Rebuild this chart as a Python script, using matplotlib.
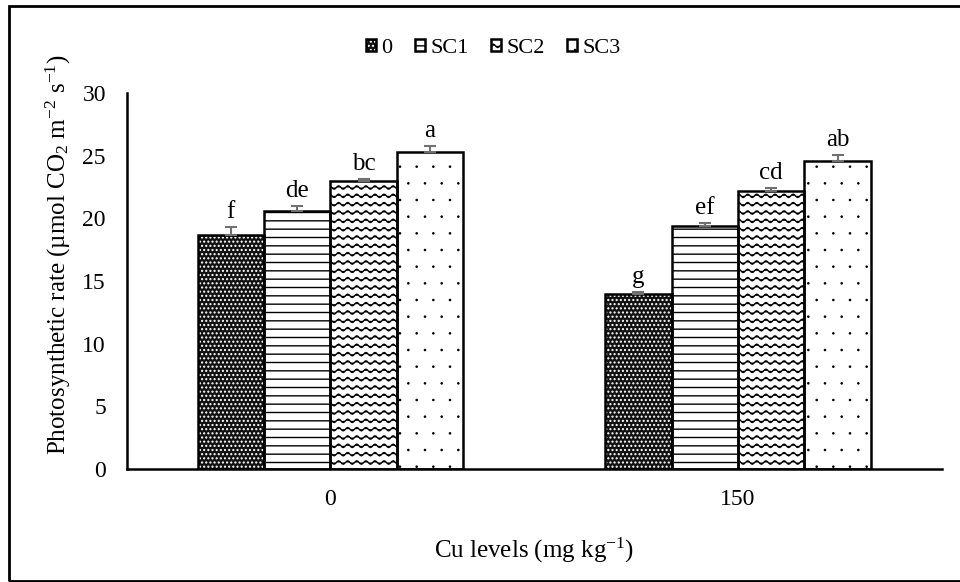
import warnings
import numpy as np
import matplotlib
matplotlib.use('Agg')
import matplotlib.pyplot as plt
from matplotlib import hatch as mhatch
from matplotlib.path import Path
from matplotlib.patches import Rectangle
from matplotlib.legend_handler import HandlerTuple

warnings.filterwarnings('ignore')

# data
cu_levels = ['0', '150']
treatments = ['0', 'SC1', 'SC2', 'SC3']
rate = {
    '0':   [18.7, 14.0],
    'SC1': [20.6, 19.4],
    'SC2': [23.0, 22.2],
    'SC3': [25.3, 24.6],
}
err = {
    '0':   [0.6, 0.1],
    'SC1': [0.4, 0.25],
    'SC2': [0.15, 0.25],
    'SC3': [0.45, 0.45],
}
letters = {
    '0':   ['f', 'g'],
    'SC1': ['de', 'ef'],
    'SC2': ['bc', 'cd'],
    'SC3': ['a', 'ab'],
}


# wavy hatch, matplotlib has none
class WaveHatch(mhatch.HatchPatternBase):
    def __init__(self, hatch, density):
        self.num_rows = hatch.count('~') * density * 2
        self.periods = 11
        self.pts = self.periods * 8 + 1
        self.num_vertices = self.num_rows * self.pts

    def set_vertices_and_codes(self, vertices, codes):
        t = np.linspace(0, 1, self.pts)
        for i in range(self.num_rows):
            s = slice(i * self.pts, (i + 1) * self.pts)
            y0 = (i + 0.5) / self.num_rows
            vertices[s, 0] = t
            vertices[s, 1] = y0 + 0.2 / self.num_rows * np.sin(2 * np.pi * self.periods * t)
            codes[s] = Path.LINETO
            codes[i * self.pts] = Path.MOVETO


# small sparse dots
class TinyDots(mhatch.Circles):
    size = 0.035
    filled = True

    def __init__(self, hatch, density):
        self.num_rows = hatch.count(':') * density
        super().__init__(hatch, density)


mhatch._hatch_types.append(WaveHatch)
mhatch._hatch_types.append(TinyDots)
mhatch._validate_hatch_pattern = lambda h: None

plt.rcParams['font.family'] = ['Liberation Serif', 'DejaVu Serif']
plt.rcParams['mathtext.fontset'] = 'custom'
plt.rcParams['mathtext.rm'] = 'Liberation Serif'
plt.rcParams['mathtext.it'] = 'Liberation Serif:italic'
plt.rcParams['hatch.linewidth'] = 1.0

fig = plt.figure(figsize=(9.6, 5.82), dpi=100)
ax = fig.add_axes([0.132, 0.194, 0.849, 0.646])

# outer frame
fig.patches.append(Rectangle((9 / 960, 1 / 582), 1.2, 1 - 7 / 582, transform=fig.transFigure,
                             fill=False, edgecolor='black', linewidth=2))

x = np.arange(len(cu_levels))
w = 0.163
styles = {
    '0':   dict(facecolor='#111111', hatch_color='white', hatch='....'),
    'SC1': dict(facecolor='white', hatch_color='black', hatch='--'),
    'SC2': dict(facecolor='white', hatch_color='black', hatch='~'),
    'SC3': dict(facecolor='white', hatch_color='black', hatch=':'),
}

handles = []
for i, t in enumerate(treatments):
    pos = x + (i - 1.5) * w
    st = styles[t]
    b1 = ax.bar(pos, rate[t], w, color=st['facecolor'], edgecolor=st['hatch_color'],
                hatch=st['hatch'], linewidth=0, zorder=2)
    b2 = ax.bar(pos, rate[t], w, fill=False, edgecolor='black', linewidth=1.8, zorder=3)
    ax.errorbar(pos, rate[t], yerr=[np.zeros(len(pos)), err[t]], fmt='none',
                ecolor='#707070', elinewidth=1.5, capsize=4.5, capthick=1.5, zorder=4)
    for p, v, e, lab in zip(pos, rate[t], err[t], letters[t]):
        ax.annotate(lab, (p, v + e), xytext=(0, 3), textcoords='offset points',
                    ha='center', va='bottom', fontsize=18)
    handles.append((b1[0], b2[0]))

ax.set_xlim(-0.5, 1.5)
ax.set_ylim(0, 30)
ax.set_yticks(range(0, 31, 5))
ax.set_xticks(x)
ax.set_xticklabels(cu_levels)
ax.tick_params(length=0, labelsize=17)
ax.tick_params(axis='y', pad=15)
ax.tick_params(axis='x', pad=14)
for s in ['top', 'right']:
    ax.spines[s].set_visible(False)
for s in ['left', 'bottom']:
    ax.spines[s].set_linewidth(1.8)

ax.set_ylabel('Photosynthetic rate (µmol CO$_2$ m$^{-2}$ s$^{-1}$)', fontsize=18)
ax.yaxis.set_label_coords(-0.066, 0.57)
ax.set_xlabel('Cu levels (mg kg$^{-1}$)', fontsize=18, labelpad=19)

ax.legend(handles, treatments, handler_map={tuple: HandlerTuple(ndivide=1)},
          loc='center', bbox_to_anchor=(0.45, 1.12), ncol=4, frameon=False,
          fontsize=16, handlelength=0.45, handleheight=0.45, handletextpad=0.25,
          columnspacing=1.0)

fig.savefig('out.png', dpi=100)
